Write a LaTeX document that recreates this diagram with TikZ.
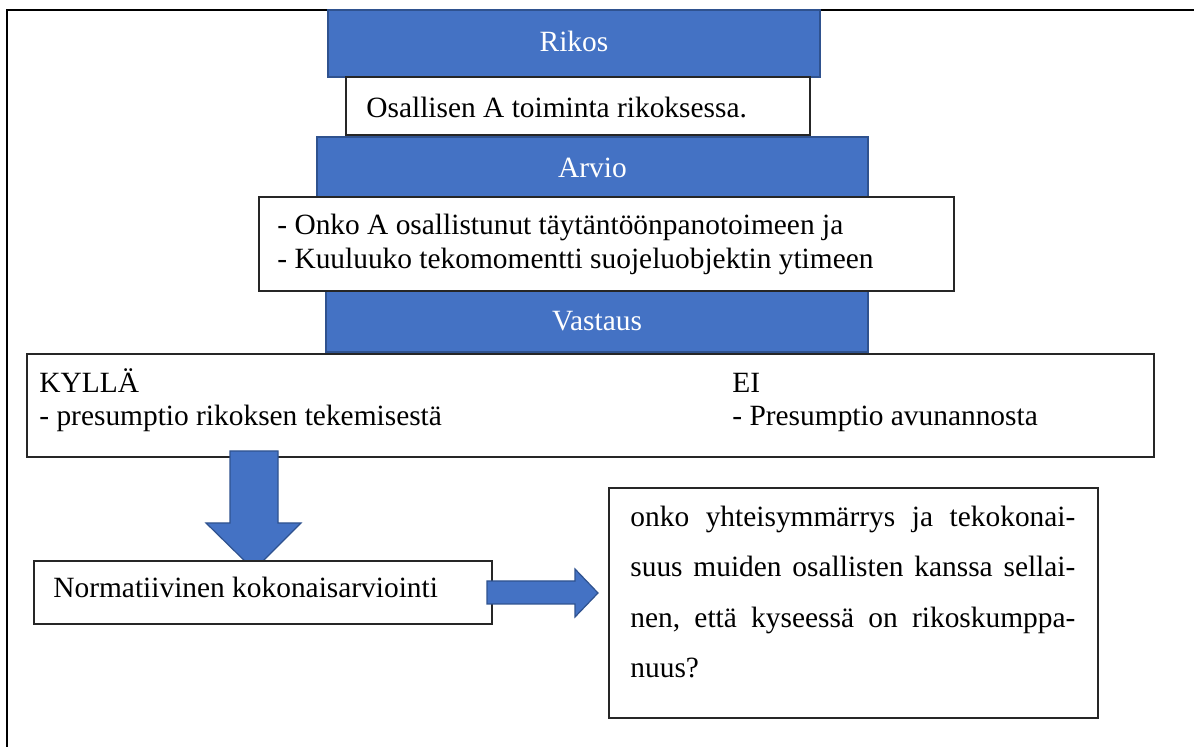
\documentclass[tikz,border=0pt]{standalone}
\usepackage{fontspec}
\setmainfont{Liberation Serif}
\usetikzlibrary{fit}
\definecolor{boxblue}{HTML}{4472C4}
\definecolor{boxblueedge}{HTML}{2F528F}
\begin{document}
\begin{tikzpicture}[x=0.5pt,y=-0.5pt,
  font=\fontsize{14.7}{17}\selectfont,
  bluebox/.style={draw=boxblueedge, fill=boxblue, line width=0.6pt, inner sep=0pt},
  whitebox/.style={draw=black!85, fill=white, line width=0.6pt, inner sep=0pt},
  bluelabel/.style={text=white, anchor=base, inner sep=0pt},
  plainlabel/.style={anchor=base west, inner sep=0pt},
  blockarrow/.style={draw=boxblueedge, fill=boxblue, line width=0.6pt, line join=miter},
  frameline/.style={draw=black, line width=1.35pt},
]
\useasboundingbox (0,0) rectangle (1194,747);
\clip (0,0) rectangle (1194,747);
\fill[white] (0,0) rectangle (1194,747);

% outer frame, continuing past the right and lower edges
\coordinate (framebl) at (7,770);
\coordinate (frametl) at (7,10);
\coordinate (frametr) at (1220,10);
\draw[frameline] (framebl) -- (frametl) -- (frametr);

% blue headings
\node[bluebox, fit={(328,10) (820,77)}] (rikos) {};
\node[bluebox, fit={(317,137) (868,197)}] (arvio) {};
\node[bluebox, fit={(326,285) (868,352)}] (vastaus) {};
\node[bluelabel] (rikostxt) at (574,52) {Rikos};
\node[bluelabel] (arviotxt) at (592.5,178) {Arvio};
\node[bluelabel] (vastaustxt) at (597,331) {Vastaus};

% white content boxes
\node[whitebox, fit={(346,77) (810,135)}] (osallinen) {};
\node[plainlabel] (osallinentxt) at (366,118) {Osallisen A toiminta rikoksessa.};

\node[whitebox, fit={(259,197) (954,291)}] (kysymys) {};
\node[plainlabel] (kysymys1) at (277,235) {- Onko A osallistunut täytäntöönpanotoimeen ja};
\node[plainlabel] (kysymys2) at (277,269) {- Kuuluuko tekomomentti suojeluobjektin ytimeen};

\node[whitebox, fit={(27,354) (1154,457)}] (vastaukset) {};
\node[plainlabel] (kylla1) at (39,393) {KYLLÄ};
\node[plainlabel] (kylla2) at (39,426) {- presumptio rikoksen tekemisestä};
\node[plainlabel] (ei1) at (732,393) {EI};
\node[plainlabel] (ei2) at (732,426) {- Presumptio avunannosta};

% block arrow down
\draw[blockarrow] (230,451) -- (278,451) -- (278,523) -- (301,523) -- (254,570)
  -- (206,523) -- (230,523) -- cycle;

\node[whitebox, fit={(34,561) (492,624)}] (normatiivinen) {};
\node[plainlabel] (normatiivinentxt) at (53,598) {Normatiivinen kokonaisarviointi};

% block arrow right
\draw[blockarrow] (487,581) -- (575,581) -- (575,569) -- (598,593) -- (575,617)
  -- (575,604) -- (487,604) -- cycle;

\node[whitebox, fit={(609,488) (1098,718)}] (kumppanuus) {};
\node[plainlabel] (kumppanuus1) at (630,527)
  {\hbox to 222.5pt{onko\hfill yhteisymmärrys\hfill ja\hfill tekokonai-}};
\node[plainlabel] (kumppanuus2) at (630,577)
  {\hbox to 222.5pt{suus\hfill muiden\hfill osallisten\hfill kanssa\hfill sellai-}};
\node[plainlabel] (kumppanuus3) at (630,628)
  {\hbox to 222.5pt{nen,\hfill että\hfill kyseessä\hfill on\hfill rikoskumppa-}};
\node[plainlabel] (kumppanuus4) at (630,678) {nuus?};
\end{tikzpicture}
\end{document}
